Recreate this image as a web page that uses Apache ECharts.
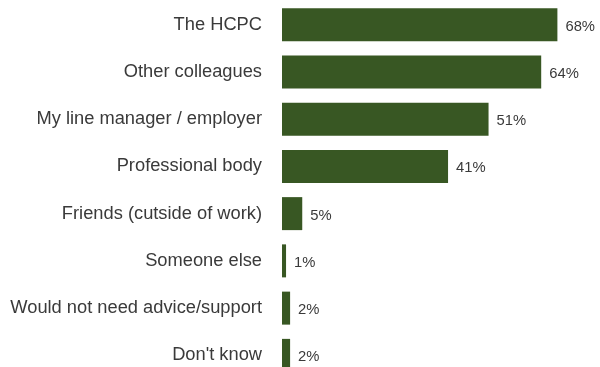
<!DOCTYPE html>
<html>
<head>
<meta charset="utf-8">
<script src="https://cdn.jsdelivr.net/npm/echarts@6/dist/echarts.min.js"></script>
<style>
  html, body { margin: 0; padding: 0; background: #ffffff; }
  #chart { width: 600px; height: 367px; }
</style>
</head>
<body>
<div id="chart"></div>
<script>
// Sources of advice / support, share of respondents (%)
const categories = [
  'The HCPC',
  'Other colleagues',
  'My line manager / employer',
  'Professional body',
  'Friends (cutside of work)',
  'Someone else',
  'Would not need advice/support',
  "Don't know"
];
const shares = [68, 64, 51, 41, 5, 1, 2, 2];

const chart = echarts.init(document.getElementById('chart'), null, { renderer: 'canvas' });

chart.setOption({
  animation: false,
  backgroundColor: '#ffffff',
  grid: {
    left: 282, top: 1, width: 405, height: 378,
    containLabel: false,
    outerBoundsMode: 'none'
  },
  xAxis: {
    type: 'value',
    min: 0,
    max: 100,
    show: false
  },
  yAxis: {
    type: 'category',
    data: categories,
    inverse: true,
    axisLine: { show: false },
    axisTick: { show: false },
    axisLabel: {
      margin: 20,
      color: '#3a3a3a',
      fontFamily: 'Liberation Sans, Arial, Helvetica, sans-serif',
      fontSize: 18.3
    }
  },
  series: [{
    type: 'bar',
    data: shares,
    barWidth: 33,
    itemStyle: { color: '#385723' },
    label: {
      show: true,
      position: 'right',
      distance: 8,
      offset: [0, 2],
      formatter: '{c}%',
      color: '#3a3a3a',
      fontFamily: 'Liberation Sans, Arial, Helvetica, sans-serif',
      fontSize: 14.8
    }
  }]
});
</script>
</body>
</html>
